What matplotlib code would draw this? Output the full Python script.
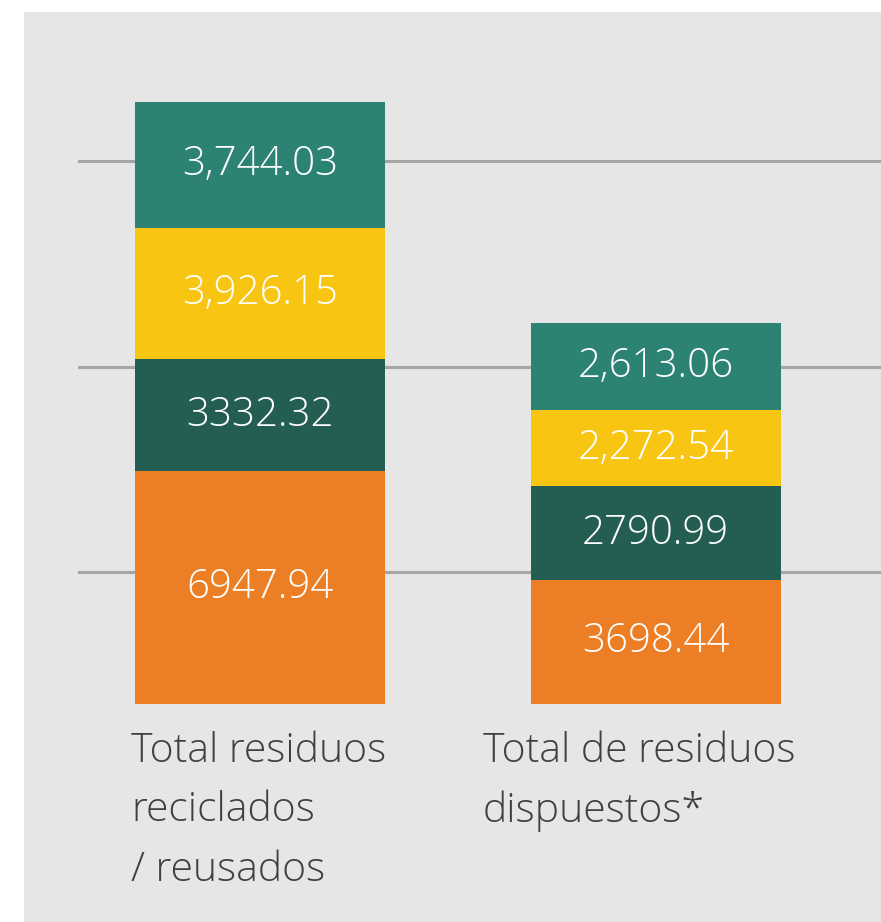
import matplotlib.pyplot as plt
from matplotlib.patches import Rectangle

# residuos por categoría (toneladas), de abajo hacia arriba
categories = ["Total residuos\nreciclados\n/ reusados", "Total de residuos\ndispuestos*"]
orange_vals = [6947.94, 3698.44]
darkgreen_vals = [3332.32, 2790.99]
yellow_vals = [3926.15, 2272.54]
teal_vals = [3744.03, 2613.06]
labels = [
    ["6947.94", "3698.44"],
    ["3332.32", "2790.99"],
    ["3,926.15", "2,272.54"],
    ["3,744.03", "2,613.06"],
]
grid_levels = [3950, 10050, 16200]

colors = ["#ec7f25", "#245e52", "#f8c512", "#2c8273"]
series = [orange_vals, darkgreen_vals, yellow_vals, teal_vals]

plt.rcParams["font.family"] = ["Open Sans", "DejaVu Sans"]

W, H = 881, 922
fig = plt.figure(figsize=(W / 100, H / 100), dpi=100, facecolor="white")
fig.patches.append(Rectangle((24 / W, 0), 1 - 24 / W, 1 - 12 / H,
                             transform=fig.transFigure, facecolor="#e6e6e6",
                             edgecolor="none", zorder=-5))

total_left = sum(s[0] for s in series)
ax = fig.add_axes([78 / W, (H - 704) / H, 1 - 78 / W, 602 / H])
ax.set_facecolor("none")
ax.set_ylim(0, total_left)
ax.set_xlim(-0.46, 1.57)

for y in grid_levels:
    ax.axhline(y, color="#a6a6a6", linewidth=2.2, zorder=1)

x = [0, 1]
bottoms = [0, 0]
for vals, col, labs in zip(series, colors, labels):
    ax.bar(x, vals, width=0.632, bottom=bottoms, color=col, zorder=2)
    for i in range(2):
        ax.text(x[i], bottoms[i] + vals[i] / 2, labs[i], ha="center", va="center",
                color="white", fontsize=29, fontweight="light", zorder=3)
    bottoms = [b + v for b, v in zip(bottoms, vals)]

for spine in ax.spines.values():
    spine.set_visible(False)
ax.set_xticks([])
ax.set_yticks([])

# category names under the bars
fig.text(131 / W, 1 - 731 / H, categories[0], ha="left", va="top",
         color="#404040", fontsize=29.4, fontweight="light", linespacing=1.59)
fig.text(483 / W, 1 - 731 / H, categories[1], ha="left", va="top",
         color="#404040", fontsize=29.4, fontweight="light", linespacing=1.59)

fig.savefig("out.png", dpi=100, facecolor="white")
